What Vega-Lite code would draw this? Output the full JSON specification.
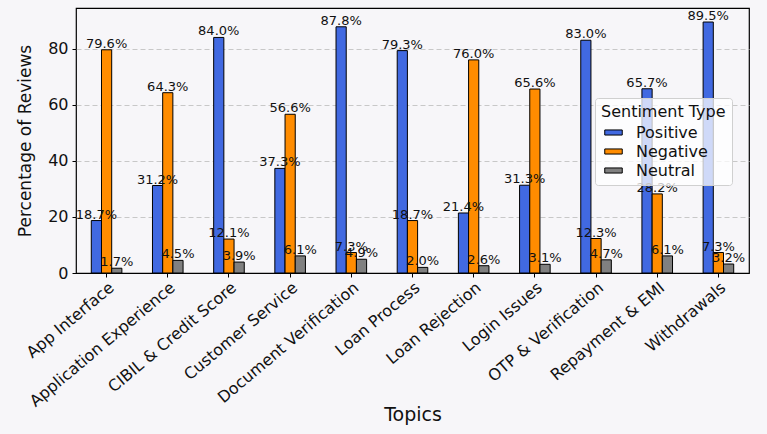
{
  "$schema": "https://vega.github.io/schema/vega-lite/v6.json",
  "width": 673,
  "height": 265,
  "autosize": "none",
  "padding": {"left": 76, "top": 8, "right": 18, "bottom": 161},
  "background": "#f7f6f9",
  "config": {
    "font": "DejaVu Sans",
    "view": {"stroke": "#000000", "strokeWidth": 1.2, "fill": "#f7f6f9"},
    "axis": {
      "labelColor": "#111111",
      "titleColor": "#111111",
      "titleFontWeight": "normal",
      "tickColor": "#000000",
      "tickSize": 4,
      "domain": false
    }
  },
  "data": {
    "values": [
      {"topic": "App Interface", "sentiment": "Positive", "pct": 18.7},
      {"topic": "App Interface", "sentiment": "Negative", "pct": 79.6},
      {"topic": "App Interface", "sentiment": "Neutral", "pct": 1.7},
      {"topic": "Application Experience", "sentiment": "Positive", "pct": 31.2},
      {"topic": "Application Experience", "sentiment": "Negative", "pct": 64.3},
      {"topic": "Application Experience", "sentiment": "Neutral", "pct": 4.5},
      {"topic": "CIBIL & Credit Score", "sentiment": "Positive", "pct": 84.0},
      {"topic": "CIBIL & Credit Score", "sentiment": "Negative", "pct": 12.1},
      {"topic": "CIBIL & Credit Score", "sentiment": "Neutral", "pct": 3.9},
      {"topic": "Customer Service", "sentiment": "Positive", "pct": 37.3},
      {"topic": "Customer Service", "sentiment": "Negative", "pct": 56.6},
      {"topic": "Customer Service", "sentiment": "Neutral", "pct": 6.1},
      {"topic": "Document Verification", "sentiment": "Positive", "pct": 87.8},
      {"topic": "Document Verification", "sentiment": "Negative", "pct": 7.3},
      {"topic": "Document Verification", "sentiment": "Neutral", "pct": 4.9},
      {"topic": "Loan Process", "sentiment": "Positive", "pct": 79.3},
      {"topic": "Loan Process", "sentiment": "Negative", "pct": 18.7},
      {"topic": "Loan Process", "sentiment": "Neutral", "pct": 2.0},
      {"topic": "Loan Rejection", "sentiment": "Positive", "pct": 21.4},
      {"topic": "Loan Rejection", "sentiment": "Negative", "pct": 76.0},
      {"topic": "Loan Rejection", "sentiment": "Neutral", "pct": 2.6},
      {"topic": "Login Issues", "sentiment": "Positive", "pct": 31.3},
      {"topic": "Login Issues", "sentiment": "Negative", "pct": 65.6},
      {"topic": "Login Issues", "sentiment": "Neutral", "pct": 3.1},
      {"topic": "OTP & Verification", "sentiment": "Positive", "pct": 83.0},
      {"topic": "OTP & Verification", "sentiment": "Negative", "pct": 12.3},
      {"topic": "OTP & Verification", "sentiment": "Neutral", "pct": 4.7},
      {"topic": "Repayment & EMI", "sentiment": "Positive", "pct": 65.7},
      {"topic": "Repayment & EMI", "sentiment": "Negative", "pct": 28.2},
      {"topic": "Repayment & EMI", "sentiment": "Neutral", "pct": 6.1},
      {"topic": "Withdrawals", "sentiment": "Positive", "pct": 89.5},
      {"topic": "Withdrawals", "sentiment": "Negative", "pct": 7.3},
      {"topic": "Withdrawals", "sentiment": "Neutral", "pct": 3.2}
    ]
  },
  "transform": [
    {"calculate": "format(datum.pct, '.1f') + '%'", "as": "label"}
  ],
  "encoding": {
    "x": {
      "field": "topic",
      "type": "nominal",
      "sort": null,
      "scale": {"paddingInner": 0.5, "paddingOuter": 0.25},
      "axis": {
        "title": "Topics",
        "titleFontSize": 19,
        "titleY": 147,
        "titleBaseline": "alphabetic",
        "labelAngle": -40,
        "labelAlign": "right",
        "labelBaseline": "top",
        "labelFontSize": 16,
        "labelPadding": 2,
        "labelLimit": 400,
        "grid": false
      }
    },
    "xOffset": {
      "field": "sentiment",
      "type": "nominal",
      "sort": ["Positive", "Negative", "Neutral"],
      "scale": {"paddingInner": 0, "paddingOuter": 0}
    },
    "y": {
      "field": "pct",
      "type": "quantitative",
      "scale": {"domain": [0, 94.5], "nice": false},
      "axis": {
        "title": "Percentage of Reviews",
        "titleFontSize": 17,
        "titleX": -51,
        "titleBaseline": "middle",
        "values": [0, 20, 40, 60, 80],
        "labelFontSize": 16,
        "labelPadding": 4,
        "grid": true,
        "gridColor": "#c8c8c8",
        "gridDash": [5, 3],
        "gridWidth": 1,
        "gridOpacity": {"condition": {"test": "datum.value === 0", "value": 0}, "value": 1}
      }
    }
  },
  "layer": [
    {
      "mark": {"type": "bar", "stroke": "#000000", "strokeWidth": 1, "opacity": 1},
      "encoding": {
        "color": {
          "field": "sentiment",
          "type": "nominal",
          "sort": ["Positive", "Negative", "Neutral"],
          "scale": {
            "domain": ["Positive", "Negative", "Neutral"],
            "range": ["#4169e1", "#ff8c00", "#808080"]
          },
          "legend": {
            "title": "Sentiment Type",
            "orient": "none",
            "legendX": 519,
            "legendY": 90,
            "titleFontSize": 16,
            "titleFontWeight": "normal",
            "titleColor": "#111111",
            "labelFontSize": 16,
            "labelColor": "#111111",
            "symbolType": "M-1,-0.29H1V0.29H-1Z",
            "symbolSize": 306,
            "symbolStrokeColor": "#000000",
            "symbolStrokeWidth": 1,
            "symbolOffset": 3,
            "labelOffset": 13,
            "rowPadding": 1,
            "titlePadding": 3,
            "padding": 6,
            "fillColor": "rgba(255,255,255,0.75)",
            "strokeColor": "#d0d0d0",
            "cornerRadius": 3
          }
        }
      }
    },
    {
      "mark": {"type": "text", "baseline": "alphabetic", "dy": -2, "fontSize": 13, "color": "#111111"},
      "encoding": {"text": {"field": "label", "type": "nominal"}}
    }
  ]
}
